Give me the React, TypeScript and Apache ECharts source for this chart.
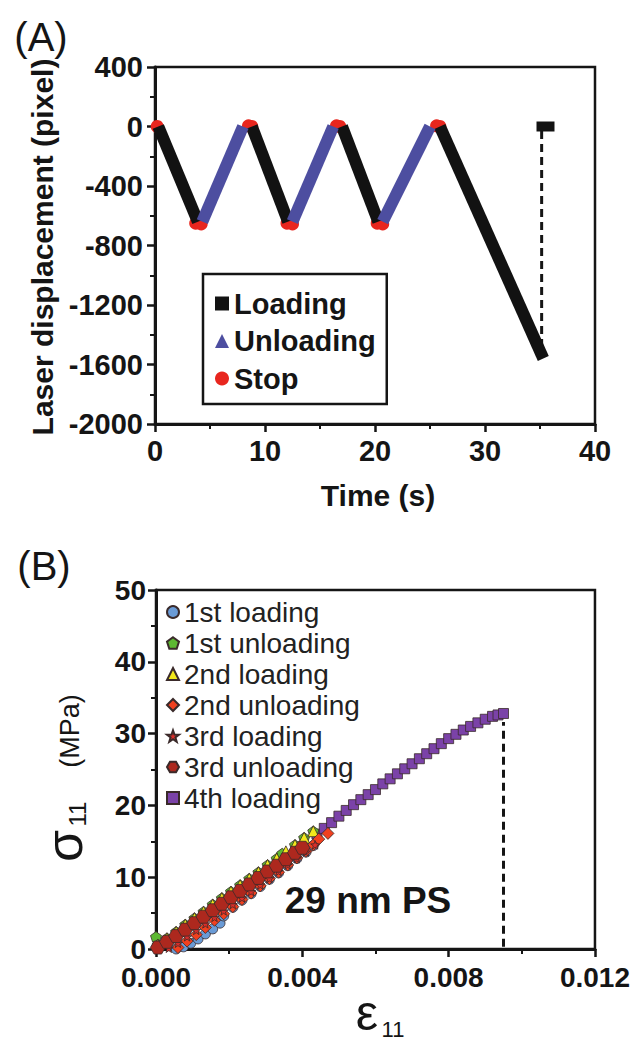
import React, { useEffect, useRef } from 'react';
import * as echarts from 'echarts';

// ---------- Panel A data ----------
const timeTicks = [0, 10, 20, 30, 40];
const dispTicks = [400, 0, -400, -800, -1200, -1600, -2000];
const loadingSegments: number[][][] = [
  [[0.3, 0], [3.9, -640]],
  [[8.8, 0], [12.1, -640]],
  [[17.0, 0], [20.3, -640]],
  [[25.9, 0], [35.3, -1560]],
];
const loadingEnd: number[][] = [[35.5, 0]];
const unloadingSegments: number[][][] = [
  [[4.3, -640], [8.0, 0]],
  [[12.5, -640], [16.2, 0]],
  [[20.7, -640], [25.0, 0]],
];
const stopPoints: number[][] = [
  [0.2, 0], [3.7, -650], [4.2, -655], [8.5, 5], [8.8, 0],
  [12.0, -650], [12.5, -655], [16.5, 5], [16.8, 0],
  [20.2, -650], [20.7, -655], [25.6, 5], [25.9, 0],
];
const dashA: number[][] = [[35.15, -30], [35.15, -1520]];

// ---------- Panel B data (strain x1e-3, stress MPa) ----------
const strainTicks = [0.0, 0.004, 0.008, 0.012];
const stressTicks = [0, 10, 20, 30, 40, 50];
const load1: number[][] = [
  [0.55, 0.0], [0.75, 0.3], [0.95, 0.8], [1.15, 1.4], [1.35, 2.1], [1.55, 2.8], [1.75, 3.6],
  [1.85, 4.6], [2.1, 5.8], [2.35, 6.8], [2.6, 7.7], [2.85, 8.7], [3.1, 9.7], [3.35, 10.6],
  [3.6, 11.6], [3.85, 12.6], [4.1, 13.5], [4.3, 14.4],
];
const unload1: number[][] = [
  [0.0, 1.7], [0.05, 0.6], [0.3, 1.5], [0.55, 2.4], [0.8, 3.4], [1.05, 4.3], [1.3, 5.2],
  [1.55, 6.2], [1.8, 7.1], [2.05, 8.0], [2.3, 8.9], [2.55, 9.8], [2.8, 10.7], [3.05, 11.7],
  [3.3, 12.6], [3.45, 13.3], [3.8, 14.5], [4.05, 15.5], [4.3, 16.4],
];
const load2: number[][] = [
  [0.05, 0.6], [0.3, 1.5], [0.55, 2.4], [0.8, 3.4], [1.05, 4.3], [1.3, 5.2], [1.55, 6.2],
  [1.8, 7.1], [2.05, 8.0], [2.3, 8.9], [2.55, 9.8], [2.8, 10.7], [3.05, 11.7], [3.3, 12.6],
  [3.55, 13.6], [3.8, 14.5], [4.05, 15.5], [4.3, 16.4],
];
const unload2: number[][] = [
  [0.6, 0.2], [0.85, 1.1], [1.1, 2.0], [1.35, 3.0], [1.6, 4.0], [1.85, 4.9], [2.1, 5.9],
  [2.35, 6.9], [2.6, 7.8], [2.85, 8.8], [3.1, 9.8], [3.35, 10.7], [3.6, 11.7], [3.85, 12.7],
  [4.1, 13.6], [4.3, 14.5], [4.45, 15.3], [4.7, 16.1],
];
const load3: number[][] = [
  [0.35, 0.1], [0.6, 0.8], [0.85, 1.7], [1.1, 2.6], [1.35, 3.5], [1.6, 4.4], [1.85, 5.3],
  [2.1, 6.2], [2.35, 7.1], [2.6, 8.0], [2.85, 8.9], [3.1, 9.8], [3.35, 10.8], [3.6, 11.7],
  [3.85, 12.6], [4.1, 13.5], [4.35, 14.5],
];
const unload3: number[][] = [
  [0.05, 0.2], [0.3, 1.0], [0.55, 1.8], [0.8, 2.7], [1.05, 3.6], [1.3, 4.5], [1.55, 5.4],
  [1.8, 6.3], [2.05, 7.2], [2.3, 8.1], [2.55, 9.0], [2.8, 9.9], [3.05, 10.8], [3.3, 11.6],
  [3.55, 12.5], [3.8, 13.4], [4.0, 14.1],
];
const load4: number[][] = [
  [4.4, 16.0], [4.6, 16.8], [4.8, 17.6], [5.0, 18.5], [5.2, 19.3], [5.4, 20.1], [5.6, 20.8],
  [5.8, 21.5], [6.0, 22.2], [6.2, 23.0], [6.4, 23.7], [6.6, 24.4], [6.8, 25.1], [7.0, 25.8],
  [7.2, 26.5], [7.4, 27.2], [7.6, 27.9], [7.8, 28.6], [8.0, 29.3], [8.2, 29.9], [8.4, 30.5],
  [8.6, 31.0], [8.8, 31.5], [9.0, 32.0], [9.2, 32.4], [9.35, 32.6], [9.5, 32.8],
];
const dashB: number[][] = [[9.5, 0.3], [9.5, 31.6]];

const FONT = '"Liberation Sans", Arial, Helvetica, sans-serif';
const INK = '#151515';

const STAR = 'path://M0,-10 L2.35,-3.24 L9.51,-3.09 L3.8,1.24 L5.88,8.09 L0,4 L-5.88,8.09 L-3.8,1.24 L-9.51,-3.09 L-2.35,-3.24 Z';
const PENTA = 'path://M0,-10 L9.51,-3.09 L5.88,8.09 L-5.88,8.09 L-9.51,-3.09 Z';
const HEXA = 'path://M-5,-8.66 L5,-8.66 L10,0 L5,8.66 L-5,8.66 L-10,0 Z';

const toStrain = (arr: number[][]) => arr.map(([e, s]) => [e / 1000, s]);

function axisCommon(fontSize: number, margin: number, formatter: (v: number) => string) {
  return {
    axisLine: { show: true, onZero: false, lineStyle: { color: INK, width: 3 } },
    axisTick: { show: true, inside: false, length: 8, lineStyle: { color: INK, width: 2.5 } },
    minorTick: { show: true, splitNumber: 2, length: 5, lineStyle: { color: INK, width: 2 } },
    splitLine: { show: false },
    minorSplitLine: { show: false },
    axisLabel: { color: INK, fontSize, fontWeight: 'bold' as const, fontFamily: FONT, margin, formatter },
  };
}

export default function App() {
  const ref = useRef<HTMLDivElement>(null);
  useEffect(() => {
    if (!ref.current) return;
    const chart = echarts.init(ref.current, undefined, { renderer: 'svg' });
    const blackColor = '#121212';
    const blueColor = '#4d4ea0';
    const redColor = '#e8261e';

    const seriesA: any[] = [];
    seriesA.push({
      name: 'Stop', type: 'scatter', xAxisIndex: 0, yAxisIndex: 0, symbol: 'circle', symbolSize: 13,
      itemStyle: { color: redColor, opacity: 1 }, data: stopPoints, z: 1,
    });
    loadingSegments.forEach((seg) => seriesA.push({
      name: 'Loading', type: 'line', xAxisIndex: 0, yAxisIndex: 0, data: seg, showSymbol: false, symbol: 'none',
      lineStyle: { color: blackColor, width: 12, cap: 'butt' }, itemStyle: { color: blackColor }, z: 3,
    }));
    seriesA.push({
      name: 'Loading', type: 'scatter', xAxisIndex: 0, yAxisIndex: 0, symbol: 'rect', symbolSize: [18, 10],
      itemStyle: { color: blackColor, opacity: 1 }, data: loadingEnd, z: 3,
    });
    unloadingSegments.forEach((seg) => seriesA.push({
      name: 'Unloading', type: 'line', xAxisIndex: 0, yAxisIndex: 0, data: seg, showSymbol: false, symbol: 'none',
      lineStyle: { color: blueColor, width: 12, cap: 'butt' }, itemStyle: { color: blueColor }, z: 3,
    }));
    seriesA.push({
      name: 'dashA', type: 'line', xAxisIndex: 0, yAxisIndex: 0, data: dashA, showSymbol: false, symbol: 'none',
      lineStyle: { color: INK, width: 3, type: [8, 5] }, z: 2,
    });

    const sc = (name: string, data: number[][], symbol: string, size: number, color: string) => ({
      name, type: 'scatter', xAxisIndex: 1, yAxisIndex: 1, symbol, symbolSize: size, symbolKeepAspect: true,
      itemStyle: { color, borderColor: '#3a2a2a', borderWidth: 0.8, opacity: 1 }, data: toStrain(data),
    });
    const seriesB: any[] = [
      sc('4th loading', load4, 'rect', 10, '#7b42a8'),
      sc('1st loading', load1, 'circle', 10, '#6a9bd6'),
      sc('1st unloading', unload1, PENTA, 11, '#5db832'),
      sc('2nd loading', load2, 'triangle', 11, '#f2e81c'),
      sc('2nd unloading', unload2, 'diamond', 12, '#f0401f'),
      sc('3rd loading', load3, STAR, 9, '#dc2e2a'),
      sc('3rd unloading', unload3, HEXA, 15, '#ad281e'),
      {
        name: 'dashB', type: 'line', xAxisIndex: 1, yAxisIndex: 1, data: toStrain(dashB), showSymbol: false, symbol: 'none',
        lineStyle: { color: INK, width: 3, type: [8, 5] }, z: 1,
      },
    ];

    const text = (x: number, y: number, t: string, size: number, weight: string, rot = 0) => ({
      type: 'text', x, y, rotation: rot, silent: true,
      style: {
        text: t, font: `${weight} ${size}px ${FONT}`, fill: INK,
        align: 'center', verticalAlign: 'middle', textAlign: 'center', textVerticalAlign: 'middle',
      },
    });

    const fmtInt = (v: number) => String(v);
    chart.setOption({
      animation: false,
      backgroundColor: '#ffffff',
      grid: [
        { left: 155, top: 67, width: 440, height: 357, show: true, borderColor: INK, borderWidth: 2.5, backgroundColor: 'transparent' },
        { left: 156, top: 590, width: 439, height: 359, show: true, borderColor: INK, borderWidth: 2.5, backgroundColor: 'transparent' },
      ],
      xAxis: [
        { type: 'value', gridIndex: 0, min: timeTicks[0], max: timeTicks[timeTicks.length - 1], interval: 10,
          ...axisCommon(29, 12, fmtInt) },
        { type: 'value', gridIndex: 1, min: strainTicks[0], max: strainTicks[strainTicks.length - 1], interval: 0.004,
          ...axisCommon(28, 14, (v: number) => v.toFixed(3)) },
      ],
      yAxis: [
        { type: 'value', gridIndex: 0, min: dispTicks[dispTicks.length - 1], max: dispTicks[0], interval: 400,
          ...axisCommon(29, 12, fmtInt) },
        { type: 'value', gridIndex: 1, min: stressTicks[0], max: stressTicks[stressTicks.length - 1], interval: 10,
          ...axisCommon(28, 10, fmtInt) },
      ],
      legend: [
        {
          orient: 'vertical', left: 203, top: 274, padding: [15, 11, 11, 12],
          borderColor: INK, borderWidth: 2.5, backgroundColor: '#fff',
          itemWidth: 14, itemHeight: 14, itemTextGap: 28, itemGap: 8.5,
          textStyle: { color: INK, fontSize: 29, fontWeight: 'bold', fontFamily: FONT },
          data: [
            { name: 'Loading', icon: 'rect' },
            { name: 'Unloading', icon: 'triangle' },
            { name: 'Stop', icon: 'circle' },
          ],
          selectedMode: false,
        },
        {
          orient: 'vertical', left: 166, top: 598, padding: 0,
          itemWidth: 12, itemHeight: 12, itemTextGap: 10, itemGap: 3,
          textStyle: { color: '#222', fontSize: 28, fontWeight: 'normal', fontFamily: FONT },
          data: [
            { name: '1st loading', icon: 'circle' },
            { name: '1st unloading', icon: PENTA },
            { name: '2nd loading', icon: 'triangle' },
            { name: '2nd unloading', icon: 'diamond' },
            { name: '3rd loading', icon: STAR },
            { name: '3rd unloading', icon: HEXA },
            { name: '4th loading', icon: 'rect' },
          ],
          selectedMode: false,
        },
      ],
      graphic: [
        text(41, 37, '(A)', 40, 'normal'),
        text(42, 247, 'Laser displacement (pixel)', 30, 'bold', Math.PI / 2),
        text(378, 495, 'Time (s)', 30, 'bold'),
        text(44, 566, '(B)', 40, 'normal'),
        text(64, 846, 'σ', 52, 'normal', Math.PI / 2),
        text(77, 814, '11', 24, 'normal', Math.PI / 2),
        text(70, 731, '(MPa)', 27, 'normal', Math.PI / 2),
        text(367, 1013, 'ε', 50, 'normal'),
        text(393, 1029, '11', 22, 'normal'),
        text(368, 900, '29 nm PS', 37, 'bold'),
      ],
      series: [...seriesA, ...seriesB],
    });
    return () => chart.dispose();
  }, []);
  return <div ref={ref} style={{ position: 'absolute', left: 0, top: 0, width: 633, height: 1043 }} />;
}
